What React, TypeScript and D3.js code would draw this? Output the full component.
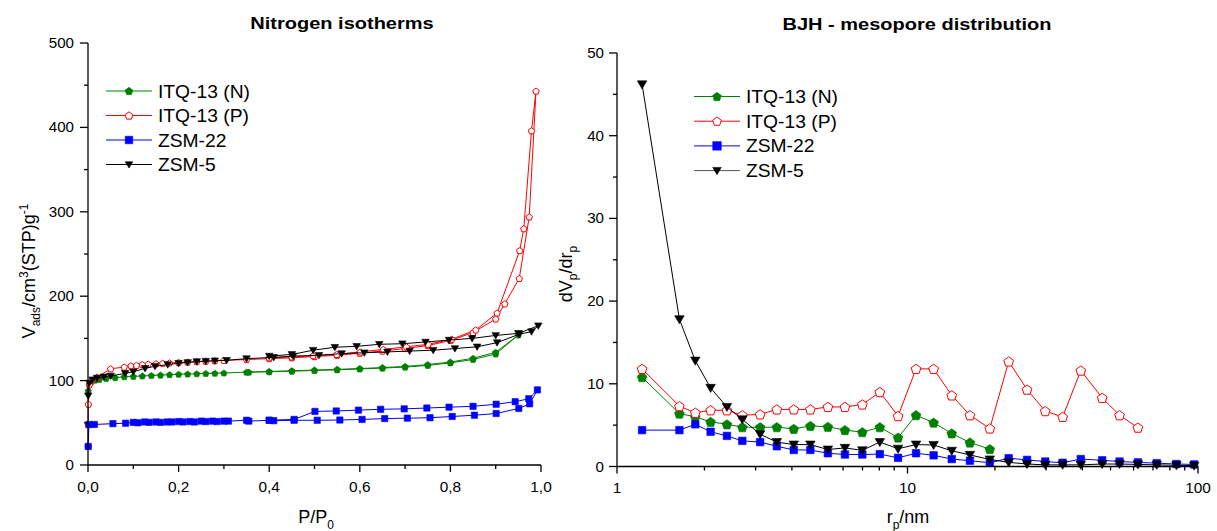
import React from 'react';
import * as d3 from 'd3';

// ---------- Nitrogen isotherms: P/P0 vs V ads (adsorption then desorption) ----------
const itqNP = [0.0005, 0.003, 0.008, 0.015, 0.025, 0.04, 0.06, 0.08, 0.1, 0.12, 0.14, 0.16, 0.18, 0.2, 0.22, 0.24, 0.26, 0.28, 0.3, 0.35, 0.4, 0.45, 0.5, 0.55, 0.6, 0.65, 0.7, 0.75, 0.8, 0.85, 0.9, 0.95,
  0.9, 0.85, 0.8, 0.75, 0.7, 0.65, 0.6, 0.55, 0.5, 0.45, 0.4, 0.355];
const itqNV = [88, 96, 99, 100.5, 101.5, 102.5, 103.5, 104.5, 105, 105.5, 106, 106.5, 107, 107.5, 107.8, 108.1, 108.4, 108.7, 109, 110, 110.8, 111.6, 112.5, 113.3, 114.3, 115.4, 116.8, 119, 122, 126.5, 133.5, 154,
  131.5, 125, 121, 118, 116, 114.8, 113.8, 112.8, 112, 111.2, 110.5, 110];

const itqPP = [0.0002, 0.0005, 0.001, 0.003, 0.008, 0.02, 0.05, 0.08, 0.095, 0.107, 0.12, 0.133, 0.15, 0.165, 0.18, 0.2, 0.22, 0.24, 0.26, 0.28, 0.3, 0.35, 0.4, 0.45, 0.5, 0.55, 0.6, 0.65, 0.7, 0.75, 0.8, 0.85, 0.9, 0.92, 0.952, 0.974, 0.989,
  0.979, 0.962, 0.953, 0.903, 0.856, 0.803, 0.751, 0.703, 0.652, 0.601, 0.549, 0.497, 0.45, 0.4];
const itqPV = [22, 48, 72, 95, 100, 104, 114, 116, 117.5, 118, 119, 119.5, 120, 120.5, 121, 121.5, 122, 122.5, 123, 123.5, 124, 125, 126, 127, 128.5, 130, 132.5, 135, 138, 141.5, 147.5, 157, 173, 191, 221, 294, 443,
  396, 280, 254, 180, 160, 149, 143, 140, 137, 134, 131, 129.5, 128, 127];

const zsm22P = [0.0005, 0.002, 0.014, 0.055, 0.083, 0.1, 0.11, 0.125, 0.135, 0.15, 0.16, 0.175, 0.185, 0.2, 0.21, 0.225, 0.235, 0.25, 0.26, 0.275, 0.285, 0.3, 0.31, 0.35, 0.355, 0.4, 0.41, 0.455, 0.506, 0.556, 0.605, 0.655, 0.705, 0.755, 0.804, 0.853, 0.901, 0.951, 0.975, 0.992,
  0.973, 0.943, 0.901, 0.85, 0.797, 0.748, 0.698, 0.646, 0.597, 0.548, 0.501, 0.455, 0.4];
const zsm22V = [22, 48, 48, 49, 49.5, 50.5, 50, 51, 50.5, 51, 50.5, 51, 51, 51.5, 51, 51.5, 51, 52, 51.5, 52, 51.5, 52, 52, 53, 52, 53, 52.5, 53, 53, 53.3, 54, 55, 55.5, 56, 57.5, 59, 61, 67, 72.5, 89,
  78.5, 75, 72, 69.5, 68.5, 67.5, 66.5, 66, 65, 64, 63.5, 54, 53];

const zsm5P = [0.0005, 0.003, 0.01, 0.02, 0.035, 0.05, 0.082, 0.1, 0.126, 0.148, 0.176, 0.2, 0.22, 0.24, 0.26, 0.28, 0.306, 0.35, 0.41, 0.453, 0.51, 0.56, 0.61, 0.661, 0.71, 0.762, 0.81, 0.859, 0.903, 0.952, 0.979, 0.994,
  0.95, 0.9, 0.848, 0.797, 0.745, 0.694, 0.643, 0.593, 0.545, 0.497, 0.45, 0.4];
const zsm5V = [82, 97, 101, 103, 104.5, 105.5, 108.6, 110.5, 114.5, 117, 119, 120.5, 121.5, 122.5, 123, 123.5, 124, 126, 127.5, 129, 130, 132, 133, 134, 135, 136, 138, 140, 145, 155, 158, 165,
  156, 153.5, 150, 148, 145.7, 143.7, 143, 140.6, 139.5, 136, 131, 129];

// ---------- BJH: r_p (nm) vs dVp/drp ----------
const rp = [1.22, 1.64, 1.86, 2.10, 2.39, 2.70, 3.11, 3.55, 4.06, 4.63, 5.32, 6.09, 6.99, 8.03, 9.28, 10.7, 12.3, 14.2, 16.4, 19.2, 22.3, 25.8, 29.8, 34.2, 39.5, 46.8, 53.7, 62.1, 72.1, 84.3, 97];
const bjhItqN = [10.8, 6.4, 6.0, 5.4, 5.1, 4.75, 4.75, 4.75, 4.55, 4.9, 4.8, 4.4, 4.15, 4.75, 3.5, 6.2, 5.3, 4.0, 2.9, 2.1];
const bjhItqP = [11.8, 7.3, 6.5, 6.8, 6.8, 6.2, 6.3, 6.9, 6.9, 6.9, 7.2, 7.2, 7.5, 9.0, 6.1, 11.8, 11.8, 8.6, 6.2, 4.6, 12.7, 9.3, 6.7, 6.0, 11.6, 8.3, 6.2, 4.7];
const bjhZsm22 = [4.4, 4.4, 5.1, 4.2, 3.7, 3.1, 2.95, 2.45, 2.0, 2.0, 1.6, 1.45, 1.45, 1.5, 1.05, 1.6, 1.35, 0.9, 0.7, 0.45, 1.0, 0.8, 0.6, 0.45, 0.9, 0.75, 0.6, 0.5, 0.4, 0.3, 0.25];
const bjhZsm5 = [46.2, 17.8, 12.8, 9.5, 7.2, 5.7, 3.9, 2.95, 2.65, 2.65, 2.05, 2.25, 1.95, 2.95, 2.15, 2.65, 2.6, 1.9, 1.4, 0.85, 0.5, 0.3, 0.2, 0.2, 0.2, 0.3, 0.3, 0.25, 0.2, 0.15, 0.1];

const names = ['ITQ-13 (N)', 'ITQ-13 (P)', 'ZSM-22', 'ZSM-5'];
const colors = ['#008000', '#ff0000', '#0000ff', '#000000'];
const shapes = ['pentagon', 'pentagon', 'square', 'triangle'];
const openMarker = [false, true, false, false];

const isoData = [d3.zip(itqNP, itqNV), d3.zip(itqPP, itqPV), d3.zip(zsm22P, zsm22V), d3.zip(zsm5P, zsm5V)];
const bjhData = [bjhItqN, bjhItqP, bjhZsm22, bjhZsm5].map(v => v.map((d, i) => [rp[i], d]));

const FONT = 'Arial, "Liberation Sans", sans-serif';

function shapePath(shape: string, s: number) {
  const r = s / 2;
  if (shape === 'pentagon') {
    const pts = d3.range(5).map(k => {
      const a = -Math.PI / 2 + (k * 2 * Math.PI) / 5;
      return [Math.cos(a) * r * 1.08, Math.sin(a) * r * 1.08 + r * 0.1];
    });
    return 'M' + pts.map(p => p[0].toFixed(2) + ',' + p[1].toFixed(2)).join('L') + 'Z';
  }
  if (shape === 'square') return `M${-r},${-r}H${r}V${r}H${-r}Z`;
  return `M${-r},${-r * 0.75}H${r}L0,${r * 0.95}Z`;
}

function Marker({ x, y, i, size }: any) {
  const open = openMarker[i];
  return (
    <path
      d={shapePath(shapes[i], size)}
      transform={`translate(${x},${y})`}
      fill={open ? '#fff' : colors[i]}
      stroke={colors[i]}
      strokeWidth={open ? 1 : 0.6}
    />
  );
}

function Txt({ x, y, sx = 1, anchor = 'middle', size = 14, weight = 'normal', children }: any) {
  return (
    <text
      transform={`translate(${x},${y}) scale(${sx},1)`}
      textAnchor={anchor}
      fontSize={size}
      fontWeight={weight}
      fontFamily={FONT}
      fill="#000"
    >
      {children}
    </text>
  );
}

function Legend({ x0, y0, step, msize, lastLine }: any) {
  return (
    <g>
      {names.map((n, i) => {
        const y = y0 + i * step;
        return (
          <g key={n}>
            <line x1={x0} x2={x0 + 46} y1={y} y2={y} stroke={i === 3 && lastLine ? lastLine : colors[i]} strokeWidth={1} />
            <Marker x={x0 + 23} y={y} i={i} size={msize} />
            <Txt x={x0 + 52} y={y + 6.5} anchor="start" size={18} sx={1.07}>{n}</Txt>
          </g>
        );
      })}
    </g>
  );
}

export default function App() {
  // left panel
  const xL = d3.scaleLinear().domain([0, 1]).range([88, 541]);
  const yL = d3.scaleLinear().domain([0, 500]).range([465, 43]);
  // right panel
  const xR = d3.scaleLog().domain([1, 100]).range([617, 1198]);
  const yR = d3.scaleLinear().domain([0, 50]).range([466.5, 53]);

  const lineL = d3.line<any>().x(d => xL(d[0])).y(d => yL(d[1]));
  const lineR = d3.line<any>().x(d => xR(d[0])).y(d => yR(d[1]));

  const xLMajor = d3.range(0, 1.01, 0.2);
  const xLMinor = d3.range(0.1, 1, 0.2);
  const yLMajor = d3.range(0, 501, 100);
  const yLMinor = d3.range(50, 500, 100);
  const yRMajor = d3.range(0, 51, 10);
  const yRMinor = d3.range(5, 50, 10);
  const xRMajor = [1, 10, 100];
  const xRMinor = xR.ticks().filter(t => !xRMajor.includes(t));

  const axisStroke = { stroke: '#000', strokeWidth: 1.3 };

  return (
    <svg width={1217} height={531} style={{ position: 'absolute', left: 0, top: 0, background: '#fff' }}>
      {/* ---------- left: Nitrogen isotherms ---------- */}
      <Txt x={342} y={29} size={16} weight="bold" sx={1.25}>Nitrogen isotherms</Txt>
      {isoData.map((d, i) => (
        <g key={i}>
          <path d={lineL(d as any) || ''} fill="none" stroke={colors[i]} strokeWidth={1} />
          {d.map((p, j) => <Marker key={j} x={xL(p[0])} y={yL(p[1])} i={i} size={i === 3 ? 7.5 : 6.3} />)}
        </g>
      ))}
      <line x1={88} x2={88} y1={yL(500)} y2={465} {...axisStroke} />
      <line x1={88} x2={541} y1={465} y2={465} {...axisStroke} />
      {yLMajor.map(t => (
        <g key={'yl' + t}>
          <line x1={80} x2={88} y1={yL(t)} y2={yL(t)} {...axisStroke} />
          <Txt x={74} y={yL(t) + 5} anchor="end" sx={1.08}>{t}</Txt>
        </g>
      ))}
      {yLMinor.map(t => <line key={'ylm' + t} x1={84} x2={88} y1={yL(t)} y2={yL(t)} {...axisStroke} />)}
      {xLMajor.map(t => (
        <g key={'xl' + t}>
          <line x1={xL(t)} x2={xL(t)} y1={465} y2={472} {...axisStroke} />
          <Txt x={xL(t)} y={492} sx={1.1}>{t.toFixed(1).replace('.', ',')}</Txt>
        </g>
      ))}
      {xLMinor.map(t => <line key={'xlm' + t} x1={xL(t)} x2={xL(t)} y1={465} y2={469} {...axisStroke} />)}
      <text x={316} y={523} textAnchor="middle" fontSize={18} fontFamily={FONT}>
        P/P<tspan dy={6} fontSize={12}>0</tspan>
      </text>
      <text transform="translate(35,271) rotate(-90)" textAnchor="middle" fontSize={18} fontFamily={FONT}>
        V<tspan dy={5} fontSize={12}>ads</tspan>
        <tspan dy={-5}>/cm</tspan>
        <tspan dy={-7} fontSize={12}>3</tspan>
        <tspan dy={7}>(STP)g</tspan>
        <tspan dy={-7} fontSize={12}>-1</tspan>
      </text>
      <Legend x0={106} y0={91} step={24.5} msize={7.5} />

      {/* ---------- right: BJH ---------- */}
      <Txt x={917} y={30} size={16} weight="bold" sx={1.25}>BJH - mesopore distribution</Txt>
      {bjhData.map((d, i) => (
        <g key={i}>
          <path d={lineR(d as any) || ''} fill="none" stroke={colors[i]} strokeWidth={1} />
          {d.map((p, j) => <Marker key={j} x={xR(p[0])} y={yR(p[1])} i={i} size={shapes[i] === 'square' ? 7.5 : 9.5} />)}
        </g>
      ))}
      <line x1={617} x2={617} y1={yR(50)} y2={466.5} {...axisStroke} />
      <line x1={617} x2={1198} y1={466.5} y2={466.5} {...axisStroke} />
      {yRMajor.map(t => (
        <g key={'yr' + t}>
          <line x1={609} x2={617} y1={yR(t)} y2={yR(t)} {...axisStroke} />
          <Txt x={604} y={yR(t) + 5} anchor="end" sx={1.08}>{t}</Txt>
        </g>
      ))}
      {yRMinor.map(t => <line key={'yrm' + t} x1={613} x2={617} y1={yR(t)} y2={yR(t)} {...axisStroke} />)}
      {xRMajor.map(t => (
        <g key={'xr' + t}>
          <line x1={xR(t)} x2={xR(t)} y1={466.5} y2={473.5} {...axisStroke} />
          <Txt x={xR(t)} y={493} sx={1.1}>{t}</Txt>
        </g>
      ))}
      {xRMinor.map(t => <line key={'xrm' + t} x1={xR(t)} x2={xR(t)} y1={466.5} y2={470.5} {...axisStroke} />)}
      <text x={908} y={523} textAnchor="middle" fontSize={18} fontFamily={FONT}>
        r<tspan dy={6} fontSize={12}>p</tspan>
        <tspan dy={-6}>/nm</tspan>
      </text>
      <text transform="translate(572,274) rotate(-90)" textAnchor="middle" fontSize={18} fontFamily={FONT}>
        dV<tspan dy={5} fontSize={12}>p</tspan>
        <tspan dy={-5}>/dr</tspan>
        <tspan dy={5} fontSize={12}>p</tspan>
      </text>
      <Legend x0={694} y0={96.5} step={24.7} msize={8.5} lastLine="#555" />
    </svg>
  );
}
